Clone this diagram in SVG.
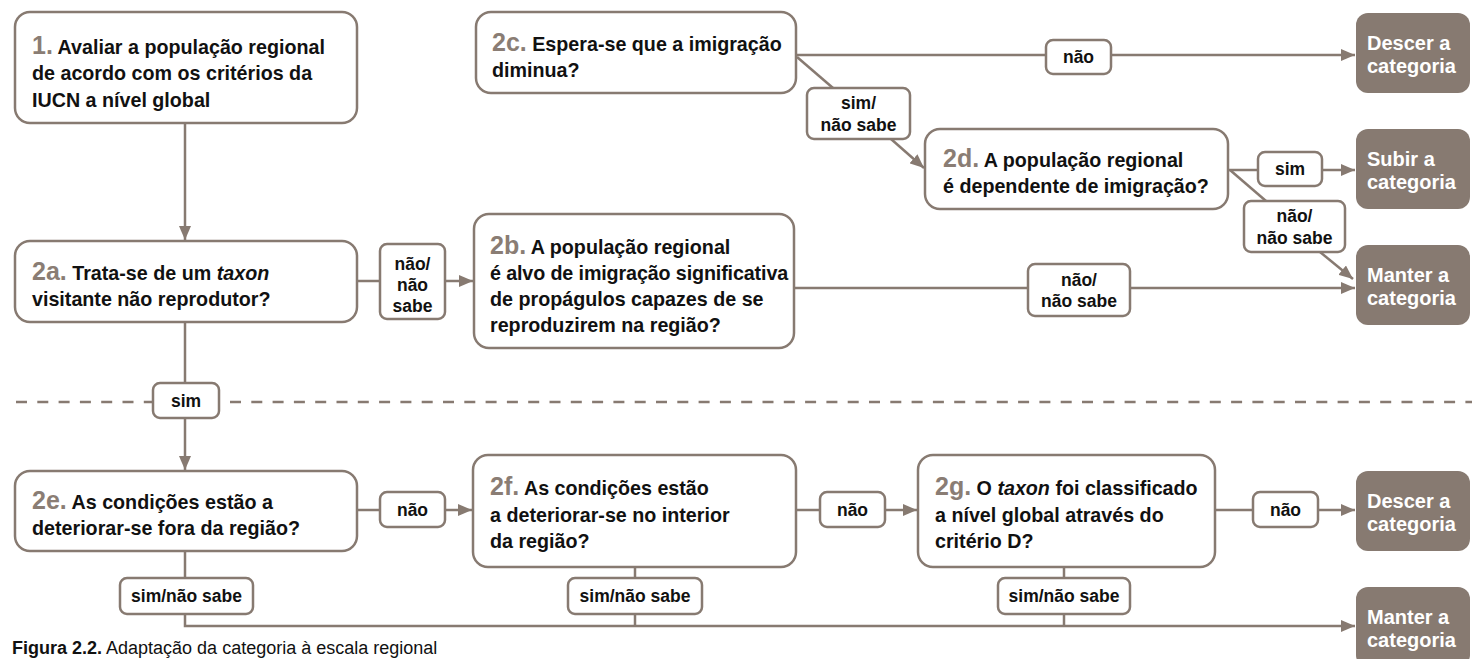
<svg xmlns="http://www.w3.org/2000/svg" width="1472" height="659" viewBox="0 0 1472 659">
<defs>
<marker id="arr" viewBox="0 0 14 12" refX="14" refY="6" markerWidth="14" markerHeight="12" markerUnits="userSpaceOnUse" orient="auto">
<path d="M0,0 L14,6 L0,12 Z" fill="#877a71"/>
</marker>
<style>
.node{fill:#fff;stroke:#877a71;stroke-width:2.5}
.term{fill:#877a71;stroke:none}
.lab{fill:#fff;stroke:#877a71;stroke-width:2.5}
.con{fill:none;stroke:#877a71;stroke-width:2.5}
.arrow{marker-end:url(#arr)}
.dash{fill:none;stroke:#877a71;stroke-width:2.5;stroke-dasharray:11 10.3}
text{font-family:"Liberation Sans",Arial,sans-serif;fill:#111}
.t{font-size:19.7px;font-weight:bold}
.num{font-size:25px;font-weight:bold;fill:#8a7d74}
.l{font-size:17.5px;font-weight:bold;text-anchor:middle}
.w{font-size:20px;font-weight:bold;fill:#fff}
.cap{font-size:18px}
</style>
</defs>
<g id="connectors">
<path class="con arrow" d="M185,123 V240"/>
<path class="con" d="M357,281 H380"/>
<path class="con arrow" d="M445,281 H473"/>
<path class="con" d="M794,288 H1028"/>
<path class="con arrow" d="M1130,288 H1355"/>
<path class="con" d="M796,55 H1046"/>
<path class="con arrow" d="M1111,55 H1355"/>
<path class="con" d="M797,57 L833,88"/>
<path class="con arrow" d="M891,139 L924,168"/>
<path class="con" d="M1228,170 H1258"/>
<path class="con arrow" d="M1322,170 H1355"/>
<path class="con" d="M1230,170 L1266,201"/>
<path class="con arrow" d="M1320,252 L1353,279"/>
<path class="con" d="M185,322 V383"/>
<path class="con arrow" d="M185,418 V470"/>
<path class="dash" d="M16,402 H153"/>
<path class="dash" d="M230,402 H1472"/>
<path class="con" d="M357,510 H380"/>
<path class="con arrow" d="M445,510 H472"/>
<path class="con" d="M796,510 H820"/>
<path class="con arrow" d="M885,510 H917"/>
<path class="con" d="M1215,510 H1253"/>
<path class="con arrow" d="M1318,510 H1355"/>
<path class="con" d="M185,551 V578"/>
<path class="con" d="M635,567 V578"/>
<path class="con" d="M1064,567 V578"/>
<path class="con arrow" d="M185,614 V626 H1355"/>
<path class="con" d="M635,614 V626"/>
<path class="con" d="M1064,614 V626"/>
</g>
<g id="labels">
<g id="lab-2a-nao"><rect class="lab" x="380" y="244" width="65" height="75" rx="7"/><text class="l"><tspan x="412.5" y="270">não/</tspan><tspan x="412.5" y="291">não</tspan><tspan x="412.5" y="312">sabe</tspan></text></g>
<g id="lab-2b-nao"><rect class="lab" x="1028" y="264" width="102" height="52" rx="7"/><text class="l"><tspan x="1079" y="286">não/</tspan><tspan x="1079" y="307">não sabe</tspan></text></g>
<g id="lab-2c-nao"><rect class="lab" x="1046" y="40" width="65" height="34" rx="7"/><text class="l" x="1078.5" y="63">não</text></g>
<g id="lab-2c-sim"><rect class="lab" x="807" y="88" width="103" height="51" rx="7"/><text class="l"><tspan x="858.5" y="109">sim/</tspan><tspan x="858.5" y="131">não sabe</tspan></text></g>
<g id="lab-2d-sim"><rect class="lab" x="1258" y="152" width="64" height="34" rx="7"/><text class="l" x="1290" y="175">sim</text></g>
<g id="lab-2d-nao"><rect class="lab" x="1244" y="201" width="101" height="51" rx="7"/><text class="l"><tspan x="1294.5" y="222">não/</tspan><tspan x="1294.5" y="244">não sabe</tspan></text></g>
<g id="lab-2a-sim"><rect class="lab" x="153" y="383" width="66" height="35" rx="7"/><text class="l" x="186" y="407">sim</text></g>
<g id="lab-2e-nao"><rect class="lab" x="380" y="492" width="65" height="35" rx="7"/><text class="l" x="412.5" y="516">não</text></g>
<g id="lab-2f-nao"><rect class="lab" x="820" y="492" width="65" height="35" rx="7"/><text class="l" x="852.5" y="516">não</text></g>
<g id="lab-2g-nao"><rect class="lab" x="1253" y="492" width="65" height="35" rx="7"/><text class="l" x="1285.5" y="516">não</text></g>
<g id="lab-2e-sim"><rect class="lab" x="120" y="578" width="133" height="36" rx="7"/><text class="l" x="186.5" y="602">sim/não sabe</text></g>
<g id="lab-2f-sim"><rect class="lab" x="568" y="578" width="134" height="36" rx="7"/><text class="l" x="635" y="602">sim/não sabe</text></g>
<g id="lab-2g-sim"><rect class="lab" x="998" y="578" width="132" height="36" rx="7"/><text class="l" x="1064" y="602">sim/não sabe</text></g>
</g>
<g id="n1"><rect class="node" x="15" y="12" width="342" height="111" rx="15"/>
<text class="t"><tspan x="32" y="54"><tspan class="num">1.</tspan> Avaliar a população regional</tspan><tspan x="32" y="80">de acordo com os critérios da</tspan><tspan x="32" y="107">IUCN a nível global</tspan></text></g>
<g id="n2a"><rect class="node" x="15" y="241" width="342" height="81" rx="15"/>
<text class="t"><tspan x="32" y="280"><tspan class="num">2a.</tspan> Trata-se de um <tspan font-style="italic">taxon</tspan></tspan><tspan x="32" y="306">visitante não reprodutor?</tspan></text></g>
<g id="n2b"><rect class="node" x="474" y="214" width="320" height="134" rx="15"/>
<text class="t"><tspan x="490" y="254"><tspan class="num">2b.</tspan> A população regional</tspan><tspan x="490" y="280" letter-spacing="-0.12">é alvo de imigração significativa</tspan><tspan x="490" y="306">de propágulos capazes de se</tspan><tspan x="490" y="332">reproduzirem na região?</tspan></text></g>
<g id="n2c"><rect class="node" x="476" y="12" width="320" height="81" rx="15"/>
<text class="t"><tspan x="492" y="51"><tspan class="num">2c.</tspan> Espera-se que a imigração</tspan><tspan x="492" y="77">diminua?</tspan></text></g>
<g id="n2d"><rect class="node" x="925" y="129" width="303" height="80" rx="15"/>
<text class="t"><tspan x="943" y="167"><tspan class="num">2d.</tspan> A população regional</tspan><tspan x="943" y="193">é dependente de imigração?</tspan></text></g>
<g id="n2e"><rect class="node" x="15" y="471" width="342" height="80" rx="15"/>
<text class="t"><tspan x="32" y="509"><tspan class="num">2e.</tspan> As condições estão a</tspan><tspan x="32" y="535">deteriorar-se fora da região?</tspan></text></g>
<g id="n2f"><rect class="node" x="473" y="455" width="323" height="112" rx="15"/>
<text class="t"><tspan x="490" y="495"><tspan class="num">2f.</tspan> As condições estão</tspan><tspan x="490" y="522">a deteriorar-se no interior</tspan><tspan x="490" y="548">da região?</tspan></text></g>
<g id="n2g"><rect class="node" x="918" y="455" width="297" height="112" rx="15"/>
<text class="t"><tspan x="935" y="495"><tspan class="num">2g.</tspan> O <tspan font-style="italic">taxon</tspan> foi classificado</tspan><tspan x="935" y="522">a nível global através do</tspan><tspan x="935" y="548">critério D?</tspan></text></g>
<g id="t-descer1"><rect class="term" x="1356" y="13" width="114" height="80" rx="12"/><text class="w"><tspan x="1367" y="50">Descer a</tspan><tspan x="1367" y="73">categoria</tspan></text></g>
<g id="t-subir"><rect class="term" x="1356" y="129" width="114" height="80" rx="12"/><text class="w"><tspan x="1367" y="166">Subir a</tspan><tspan x="1367" y="189">categoria</tspan></text></g>
<g id="t-manter1"><rect class="term" x="1356" y="245" width="114" height="80" rx="12"/><text class="w"><tspan x="1367" y="282">Manter a</tspan><tspan x="1367" y="305">categoria</tspan></text></g>
<g id="t-descer2"><rect class="term" x="1356" y="471" width="114" height="80" rx="12"/><text class="w"><tspan x="1367" y="508">Descer a</tspan><tspan x="1367" y="531">categoria</tspan></text></g>
<g id="t-manter2"><rect class="term" x="1356" y="587" width="114" height="80" rx="12"/><text class="w"><tspan x="1367" y="624">Manter a</tspan><tspan x="1367" y="647">categoria</tspan></text></g>
<text class="cap" x="12" y="654"><tspan font-weight="bold">Figura 2.2.</tspan> Adaptação da categoria à escala regional</text>
</svg>
